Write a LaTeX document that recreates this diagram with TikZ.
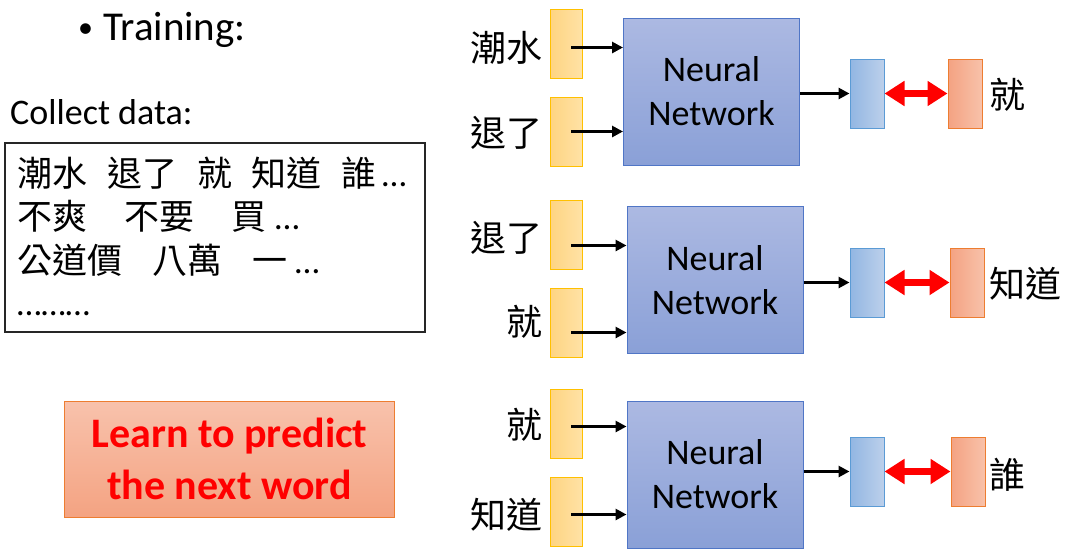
\documentclass[tikz,border=0pt]{standalone}
\usepackage{fontspec}
\setmainfont{Carlito}
\newfontfamily\cjk{Noto Sans CJK TC}
\usetikzlibrary{arrows.meta}
\definecolor{nnTop}{RGB}{172,185,226}
\definecolor{nnBot}{RGB}{138,160,215}
\definecolor{nnEdge}{RGB}{80,118,198}
\definecolor{barL}{RGB}{254,212,130}
\definecolor{barR}{RGB}{255,226,165}
\definecolor{barEdge}{RGB}{255,192,0}
\definecolor{blL}{RGB}{146,182,226}
\definecolor{blR}{RGB}{188,208,235}
\definecolor{blEdge}{RGB}{91,155,213}
\definecolor{orL}{RGB}{244,162,130}
\definecolor{orR}{RGB}{248,194,170}
\definecolor{orEdge}{RGB}{237,125,49}
\definecolor{lnTop}{RGB}{248,194,172}
\definecolor{lnBot}{RGB}{244,163,130}
\tikzset{
  inbar/.style={draw=barEdge, line width=1pt, left color=barL, right color=barR, minimum width=32pt, minimum height=69pt, inner sep=0pt},
  nnbox/.style={draw=nnEdge, line width=1pt, top color=nnTop, bottom color=nnBot, minimum width=176pt, minimum height=147pt, inner sep=0pt, align=center, font=\fontsize{36}{44}\selectfont},
  outbl/.style={draw=blEdge, line width=1pt, left color=blL, right color=blR, minimum width=34pt, minimum height=69pt, inner sep=0pt},
  outor/.style={draw=orEdge, line width=1pt, left color=orL, right color=orR, minimum width=34pt, minimum height=69pt, inner sep=0pt},
  lbl/.style={font=\cjk\fontsize{36}{40}\selectfont, inner sep=0pt},
  boxline/.style={font=\fontsize{35}{40}\selectfont, inner sep=0pt, anchor=base west},
  arr/.style={line width=3pt, -{Triangle[width=11pt,length=11pt]}},
  redarr/.style={red, line width=6.5pt, {Triangle[width=24pt,length=20pt]}-{Triangle[width=24pt,length=20pt]}},
}
\begin{document}
\begin{tikzpicture}[x=1pt,y=-1pt]
\useasboundingbox (0,0) rectangle (1065,557);
% left column
\node[anchor=base west, inner sep=0pt, font=\fontsize{41}{48}\selectfont] (train) at (78,40) {\raisebox{3pt}{\fontsize{30}{32}\selectfont\textbullet}\hspace{10pt}Training:};
\node[anchor=base west, inner sep=0pt, font=\fontsize{36}{44}\selectfont] (collect) at (10,124) {Collect data:};
\node[draw=black!85, line width=1.3pt, minimum width=420pt, minimum height=189pt, inner sep=0pt] (data) at (215,237.5) {};
\node[boxline] (l1) at (17,186) {{\cjk 潮水}\kern20pt{\cjk 退了}\kern20pt{\cjk 就}\kern19pt{\cjk 知道}\kern20pt{\cjk 誰}\kern6pt…};
\node[boxline] (l2) at (17,229) {{\cjk 不爽}\kern37pt{\cjk 不要}\kern37pt{\cjk 買}\kern9pt…};
\node[boxline] (l3) at (17,273) {{\cjk 公道價}\kern30pt{\cjk 八萬}\kern30pt{\cjk 一}\kern8pt…};
\node[boxline] (l4) at (17,315) {………};
\node[draw=orEdge, line width=1pt, top color=lnTop, bottom color=lnBot, minimum width=330pt, minimum height=116pt, inner sep=0pt, align=center, text=red, font=\bfseries\fontsize{42}{52}\selectfont] (learn) at (229.5,459) {Learn to predict\\the next word};
% row 1
\node[inbar] (b11) at (566,43.5) {};
\node[inbar] (b12) at (566,131.5) {};
\node[nnbox] (nn1) at (711.5,91.5) {Neural\\Network};
\node[outbl] (bl1) at (867,93.5) {};
\node[outor] (or1) at (965,93.5) {};
\node[lbl, anchor=east] (t11) at (543,48) {潮水};
\node[lbl, anchor=east] (t12) at (543,133) {退了};
\node[lbl, anchor=west] (r1) at (989,95) {就};
% row 2
\node[inbar] (b21) at (566,234.5) {};
\node[inbar] (b22) at (566,322.5) {};
\node[nnbox] (nn2) at (715,280) {Neural\\Network};
\node[outbl] (bl2) at (867,282.5) {};
\node[outor] (or2) at (967,282.5) {};
\node[lbl, anchor=east] (t21) at (543,238) {退了};
\node[lbl, anchor=east] (t22) at (543,322) {就};
\node[lbl, anchor=west] (r2) at (989,284) {知道};
% row 3
\node[inbar] (b31) at (566,423.5) {};
\node[inbar] (b32) at (566,511.5) {};
\node[nnbox] (nn3) at (715,474.5) {Neural\\Network};
\node[outbl] (bl3) at (867,471.5) {};
\node[outor] (or3) at (968,471.5) {};
\node[lbl, anchor=east] (t31) at (543,425) {就};
\node[lbl, anchor=east] (t32) at (543,515) {知道};
\node[lbl, anchor=west] (r3) at (989,475) {誰};
% arrows
\draw[arr] ([xshift=5pt,yshift=-4pt]b11.center) -- ([yshift=-4pt]b11.center -| nn1.west);
\draw[arr] ([xshift=5pt]b12.center) -- (b12.center -| nn1.west);
\draw[arr] ([xshift=5pt,yshift=-11pt]b21.center) -- ([yshift=-11pt]b21.center -| nn2.west);
\draw[arr] ([xshift=5pt,yshift=-10pt]b22.center) -- ([yshift=-10pt]b22.center -| nn2.west);
\draw[arr] ([xshift=5pt,yshift=-3pt]b31.center) -- ([yshift=-3pt]b31.center -| nn3.west);
\draw[arr] ([xshift=5pt,yshift=-3pt]b32.center) -- ([yshift=-3pt]b32.center -| nn3.west);
\draw[arr] (nn1.east |- bl1.west) -- (bl1.west);
\draw[arr] (nn2.east |- bl2.west) -- (bl2.west);
\draw[arr] (nn3.east |- bl3.west) -- (bl3.west);
\draw[redarr] (bl1.east) -- (or1.west);
\draw[redarr] (bl2.east) -- (or2.west);
\draw[redarr] (bl3.east) -- (or3.west);
\end{tikzpicture}
\end{document}
